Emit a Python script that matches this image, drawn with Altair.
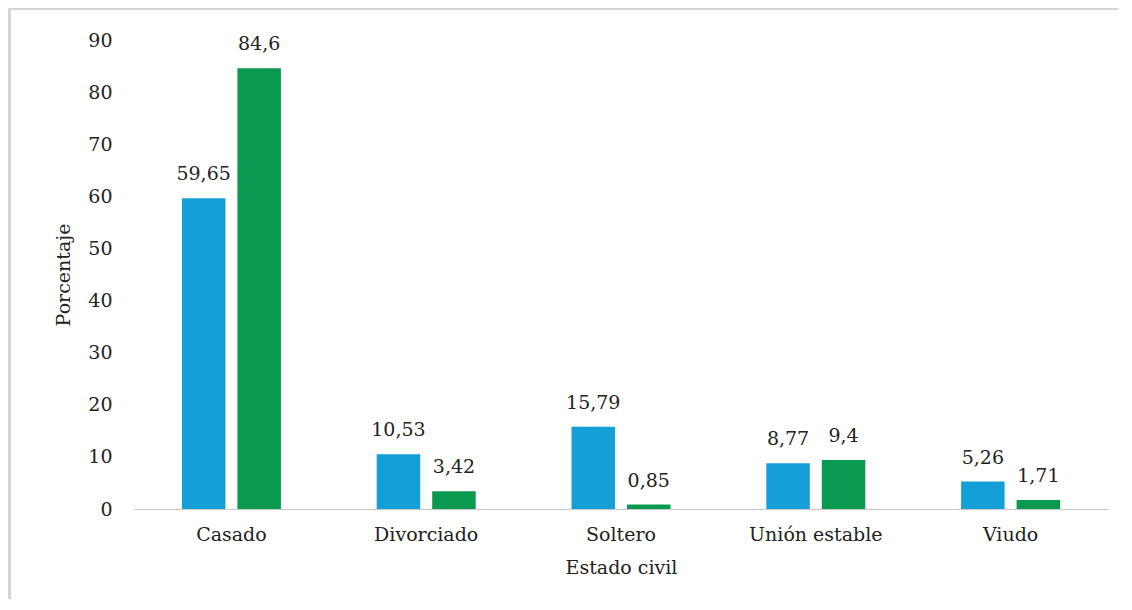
import altair as alt
import pandas as pd

categorias = ["Casado", "Divorciado", "Soltero", "Unión estable", "Viudo"]
serie_a = [59.65, 10.53, 15.79, 8.77, 5.26]
serie_b = [84.6, 3.42, 0.85, 9.4, 1.71]
series = ["Serie 1", "Serie 2"]
colores = ["#149FD7", "#0A9A4F"]
y_ticks = [0, 10, 20, 30, 40, 50, 60, 70, 80, 90]

rows = []
for c, a, b in zip(categorias, serie_a, serie_b):
    rows.append({"cat": c, "serie": series[0], "v": a, "lab": str(a).replace(".", ",")})
    rows.append({"cat": c, "serie": series[1], "v": b, "lab": str(b).replace(".", ",")})
df = pd.DataFrame(rows)

FONT = "DejaVu Serif"
W, H = 974, 469

x = alt.X("cat:N", sort=categorias, title="Estado civil",
          scale=alt.Scale(paddingInner=0, paddingOuter=0),
          axis=alt.Axis(labelAngle=0, ticks=False, labelPadding=16, titlePadding=14,
                        domainColor="#C8C8C8", domainWidth=1.2, grid=False,
                        labelFont=FONT, titleFont=FONT))
xo = alt.XOffset("serie:N", sort=series,
                 scale=alt.Scale(paddingInner=0.216, paddingOuter=0.863))
y = alt.Y("v:Q", title="Porcentaje",
          scale=alt.Scale(domain=[0, 90], nice=False),
          axis=alt.Axis(values=y_ticks, domain=False, ticks=False, grid=False,
                        labelPadding=22, titlePadding=14,
                        labelFont=FONT, titleFont=FONT))

base = alt.Chart(df)
bars = base.mark_bar().encode(
    x=x, xOffset=xo, y=y,
    color=alt.Color("serie:N", sort=series, legend=None,
                    scale=alt.Scale(domain=series, range=colores)),
)
labels = base.mark_text(baseline="bottom", dy=-14, font=FONT, fontSize=19,
                        color="#222222").encode(
    x=x, xOffset=xo, y=y, text="lab:N"
)
left_border = base.mark_rule(color="#D4D4D4", strokeWidth=1.5).encode(
    x=alt.value(-124.5), y=alt.value(-31.5), y2=alt.value(620)
)
top_border = base.mark_rule(color="#D4D4D4", strokeWidth=1.5).encode(
    x=alt.value(-124.5), x2=alt.value(1000), y=alt.value(-31.5)
)

chart = alt.layer(left_border, top_border, bars, labels).properties(
    width=W, height=H,
    autosize=alt.AutoSizeParams(type="none"),
    padding={"left": 126, "top": 32, "right": 10, "bottom": 90},
    background="white",
).configure(font=FONT).configure_view(stroke=None).configure_axis(
    labelFontSize=19, titleFontSize=19,
    labelColor="#222222", titleColor="#222222", titleFontWeight="normal",
)

chart.save("out.html", embed_options={"renderer": "svg", "actions": False})
